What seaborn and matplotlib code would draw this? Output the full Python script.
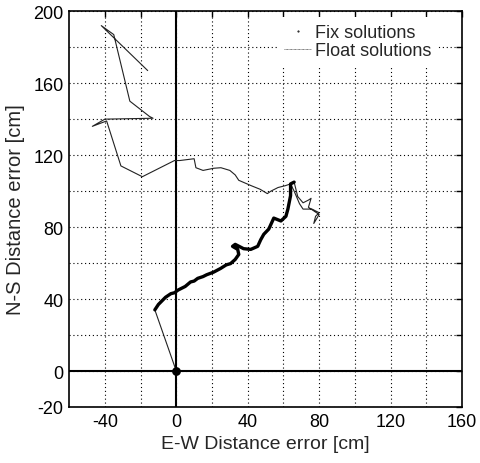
import numpy as np
import pandas as pd
import matplotlib
matplotlib.use("Agg")
import matplotlib.pyplot as plt
import seaborn as sns
from matplotlib.lines import Line2D

# ---- data ----
fix_x = [-12, -11, -10, -9, -7, -6, -3, -1, 1, 3, 5, 8, 10, 12, 15, 17, 21, 24.8, 28, 30.4, 33, 35,
         34.4, 31.5, 33, 37.7, 41.7, 45.6, 47.3, 49, 51.8, 54.6, 58.6, 61.4, 62.5, 64, 64, 66]
fix_y = [34, 35.5, 37, 38, 40, 41, 43, 43.5, 45, 46, 47, 49.5, 50, 51.5, 52.5, 53.5, 55, 57, 59, 59.7,
         62, 64.8, 67.6, 69.3, 70.4, 68, 67.6, 69.3, 73, 76, 78.9, 85, 83.4, 86, 90, 97.5, 104, 105]
fix_start_x = [0]
fix_start_y = [0]

float1_x = [0, -12]
float1_y = [0, 34]

float2_x = [66, 67, 68, 71, 74, 75.5, 74, 77, 80, 77, 78, 80, 76, 71, 69, 66, 64, 61, 57, 53, 51,
            47, 42, 35, 33, 30, 25, 21, 15, 11, 10, 2, -1, -19, -31, -39, -47, -40, -13, -15,
            -26, -35, -42, -16]
float2_y = [105, 101, 97, 93.5, 95, 96, 91, 89, 87, 82, 86, 88, 90, 90, 93, 100, 104, 103, 102, 100,
            98.6, 101, 103, 106, 109, 111.5, 113, 112.7, 111.5, 113, 118, 117, 117, 108, 114, 139,
            136, 140, 140.5, 141.5, 150, 187, 192, 167]

x_ticks = [-40, -20, 0, 20, 40, 60, 80, 100, 120, 140, 160]
x_labels = ["-40", "", "0", "", "40", "", "80", "", "120", "", "160"]
y_ticks = [-20, 0, 20, 40, 60, 80, 100, 120, 140, 160, 180, 200]
y_labels = ["-20", "0", "", "40", "", "80", "", "120", "", "160", "", "200"]

sns.set_style("white")
plt.rcParams['font.family'] = ['Liberation Sans', 'DejaVu Sans']

fig = plt.figure(figsize=(4.8, 4.64), dpi=100)
ax = fig.add_axes([0.144, 0.1207, 0.8185, 0.853])

fl = pd.DataFrame({
    "x": float1_x + float2_x,
    "y": float1_y + float2_y,
    "seg": [0] * len(float1_x) + [1] * len(float2_x),
})
fx = pd.DataFrame({"x": fix_x, "y": fix_y})

ax.axvline(0, color="black", lw=1.5, zorder=1)
ax.axhline(0, color="black", lw=1.5, zorder=1)

sns.lineplot(data=fl, x="x", y="y", units="seg", estimator=None, sort=False,
             color="#222222", lw=0.8, ax=ax, legend=False, zorder=3)
sns.lineplot(data=fx, x="x", y="y", estimator=None, sort=False,
             color="black", lw=2.4, ax=ax, legend=False, zorder=4)
sns.scatterplot(x=fix_start_x, y=fix_start_y, color="black", s=40, ax=ax,
                legend=False, zorder=5, linewidth=0)

ax.set_xlim(-60, 160)
ax.set_ylim(-20, 200)
ax.set_xticks(x_ticks)
ax.set_xticklabels(x_labels)
ax.set_yticks(y_ticks)
ax.set_yticklabels(y_labels)
ax.tick_params(direction="in", length=4, width=1, top=True, right=True,
               labelsize=13, colors="black", pad=4)
ax.grid(True, linestyle=(0, (1, 2.5)), color="black", lw=0.8)
for s in ax.spines.values():
    s.set_visible(True)
    s.set_color("black")
    s.set_linewidth(1.2)

ax.set_xlabel("E-W Distance error [cm]", fontsize=14, labelpad=4)
ax.set_ylabel("N-S Distance error [cm]", fontsize=14.5, labelpad=6)

handles = [Line2D([], [], color="black", marker=".", markersize=1, lw=0),
           Line2D([], [], color="#555555", lw=0.6, linestyle=(0, (1, 0.6)))]
leg = ax.legend(handles, ["Fix solutions", "Float solutions"], loc="upper right",
                frameon=True, fancybox=False, facecolor="white", edgecolor="none",
                framealpha=1.0, fontsize=13, handlelength=1.5, handletextpad=0.2,
                borderpad=0.4, borderaxespad=0.0, labelspacing=0.05,
                bbox_to_anchor=(0.94, 0.985))

fig.savefig("out.png", dpi=100)
